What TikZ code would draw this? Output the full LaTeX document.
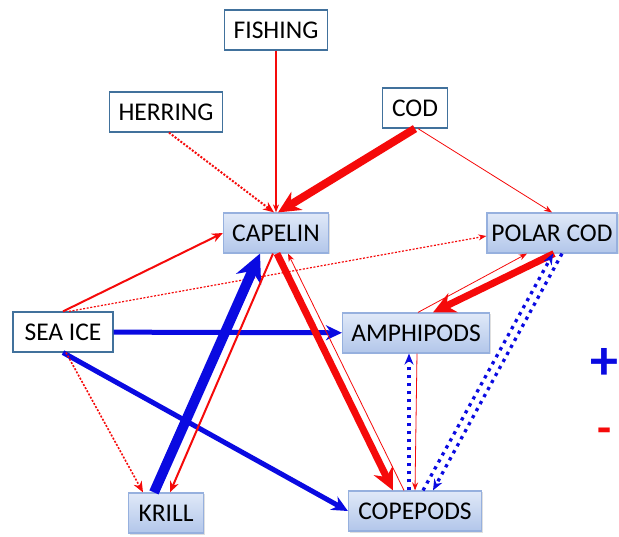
\documentclass[tikz,border=0pt]{standalone}
\usepackage{fontspec}
\setmainfont{Carlito}
\usetikzlibrary{positioning,arrows.meta,shadows}
\definecolor{boxline}{RGB}{65,113,156}
\definecolor{shadeline}{RGB}{150,176,222}
\definecolor{shadetop}{RGB}{224,233,248}
\definecolor{shadebot}{RGB}{178,198,234}
\definecolor{posblue}{RGB}{10,10,225}
\definecolor{negred}{RGB}{245,10,10}
\tikzset{%
  factor/.style={draw=boxline,fill=white,line width=1.2pt,minimum height=40pt,inner sep=0pt,font=\fontsize{25.5}{28}\selectfont},
  species/.style={factor,draw=shadeline,top color=shadetop,bottom color=shadebot,drop shadow={opacity=.25,shadow xshift=1.5pt,shadow yshift=-1.5pt}},
  negedge/.style={draw=negred},
  posedge/.style={draw=posblue},
  dots/.style={dash pattern=on 2pt off 1.6pt},
  bigdots/.style={line width=3.3pt,dash pattern=on 3.3pt off 4.7pt},
  weak/.style={line width=.8pt,-{Stealth[length=8pt,width=6pt]}},
  medium/.style={line width=2pt,-{Stealth[length=11pt,width=9pt]}},
  strong/.style={line width=5pt,-{Stealth[length=16pt,width=15pt]}},
  heavy/.style={line width=7pt,-{Stealth[length=22pt,width=21pt]}},
  massive/.style={line width=10pt,-{Stealth[length=28pt,width=27pt]}},
  sign/.style={font=\fontsize{46}{50}\selectfont\bfseries,inner sep=0pt}
}

\begin{document}
\begin{tikzpicture}[x=1pt,y=1pt]
  \useasboundingbox (0,0) rectangle (619,536);

  \node[factor,minimum width=103pt] (fishing) at (276,506) {FISHING};
  \node[factor,minimum width=113pt] (herring) at (166,424) {HERRING};
  \node[factor,minimum width=65pt] (cod) at (415,428) {COD};
  \node[factor,minimum width=100pt] (seaice) at (63,204) {SEA ICE};
  \node[species,minimum width=105pt] (capelin) at (276,303) {CAPELIN};
  \node[species,minimum width=130pt] (polarcod) at (552,303) {POLAR COD};
  \node[species,minimum width=147pt] (amphi) at (416,203) {AMPHIPODS};
  \node[species,minimum width=75pt] (krill) at (166,23) {KRILL};
  \node[species,minimum width=133pt] (cope) at (415,25) {COPEPODS};

  \node[sign,text=posblue,font=\fontsize{56}{60}\selectfont\bfseries] (plus) at (604,172) {+};
  \node[sign,text=negred] (minus) at (605,100) {-};

  \draw[negedge,weak,line width=1.3pt] (fishing) -- (capelin);
  \draw[negedge,medium,dots] ([xshift=3pt]herring.south) -- ([xshift=-2pt]capelin.north);
  \draw[negedge,heavy,line width=8pt] (cod.south) -- ([xshift=2pt]capelin.north);
  \draw[negedge,weak] ([xshift=3pt]cod.south) -- (polarcod.north);
  \draw[negedge,medium] (seaice.north) -- (capelin.west);
  \draw[negedge,weak,dots,line width=1.2pt] ([xshift=6pt]seaice.north) -- ([yshift=-3pt]polarcod.west);
  \draw[posedge,strong] (seaice) -- (amphi);
  \draw[posedge,strong] (seaice.south) -- (cope.west);
  \draw[negedge,medium,dots,line width=1.6pt] ([xshift=3pt]seaice.south) -- ([xshift=-23pt]krill.north);
  \draw[posedge,massive] ([xshift=-12pt]krill.north) -- ([xshift=-16pt]capelin.south);
  \draw[negedge,medium] ([xshift=-3pt]capelin.south) -- ([xshift=4pt]krill.north);
  \draw[negedge,heavy] ([xshift=1pt]capelin.south) -- ([xshift=-22pt]cope.north);
  \draw[negedge,weak] ([xshift=-11pt]cope.north) -- ([xshift=12pt]capelin.south);
  \draw[negedge,heavy] ([xshift=2pt]polarcod.south) -- ([xshift=17pt]amphi.north);
  \draw[negedge,weak] ([xshift=2pt]amphi.north) -- ([xshift=-25pt]polarcod.south);
  \draw[posedge,medium,bigdots] ([xshift=10pt]polarcod.south) -- ([xshift=18pt]cope.north);
  \draw[posedge,medium,bigdots] ([xshift=8pt]cope.north) -- ([xshift=1pt]polarcod.south);
  \draw[posedge,medium,bigdots] ([xshift=-6pt]cope.north) -- ([xshift=-7pt]amphi.south);
  \draw[negedge,weak] ([xshift=1pt]amphi.south) -- (cope.north);
\end{tikzpicture}
\end{document}
